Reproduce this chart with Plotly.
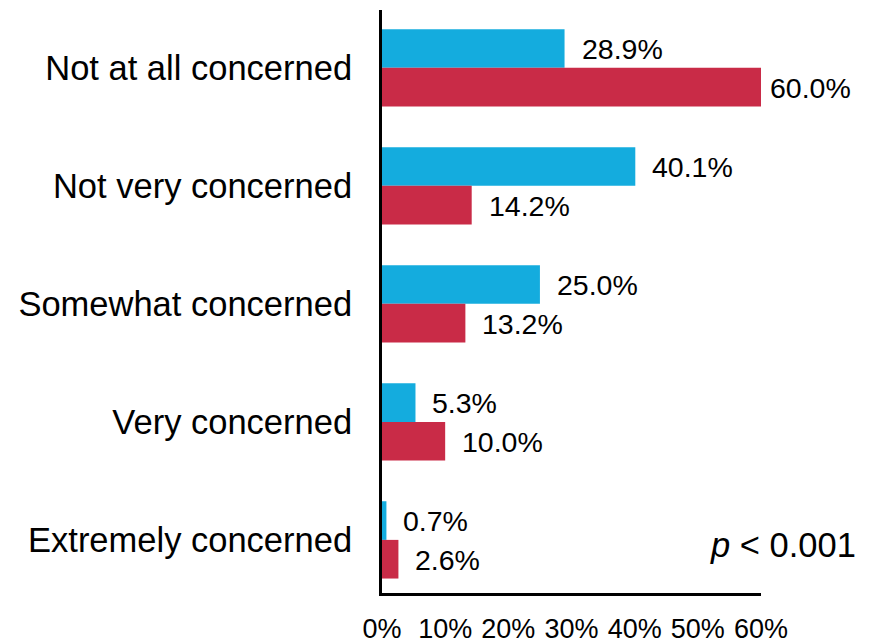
import plotly.graph_objects as go

categories = ["Not at all concerned", "Not very concerned", "Somewhat concerned",
              "Very concerned", "Extremely concerned"]
series_blue = [28.9, 40.1, 25.0, 5.3, 0.7]
series_red = [60.0, 14.2, 13.2, 10.0, 2.6]
tick_vals = [0, 10, 20, 30, 40, 50, 60]
tick_text = ["0%", "10%", "20%", "30%", "40%", "50%", "60%"]

BLUE = "#14ACDE"
RED = "#C92B47"
FONT = "Liberation Sans, Arial, sans-serif"

fig = go.Figure()
fig.add_trace(go.Bar(y=categories, x=series_blue, orientation="h",
                     marker=dict(color=BLUE, line=dict(width=0)), name="A",
                     hoverinfo="x+y"))
fig.add_trace(go.Bar(y=categories, x=series_red, orientation="h",
                     marker=dict(color=RED, line=dict(width=0)), name="B",
                     hoverinfo="x+y"))

annotations = []
XMAX = 60
for vals, shift in ((series_blue, 19), (series_red, -20)):
    for cat, v in zip(categories, vals):
        annotations.append(dict(
            x=v, y=cat, xref="x", yref="y", text=f"{v:.1f}%",
            showarrow=False, xanchor="left", yanchor="middle",
            xshift=7 if v >= XMAX else 15, yshift=shift,
            font=dict(family=FONT, size=28.5, color="black")))

annotations.append(dict(
    x=1.257, y=0.082, xref="paper", yref="paper",
    text="<i>p</i> &lt; 0.001", showarrow=False,
    xanchor="right", yanchor="middle",
    font=dict(family=FONT, size=34.5, color="black")))

fig.update_layout(
    width=871, height=643,
    margin=dict(l=374, r=118, t=2, b=58, autoexpand=False),
    paper_bgcolor="white", plot_bgcolor="white",
    barmode="group", bargap=0.345, bargroupgap=0,
    showlegend=False,
    annotations=annotations,
    font=dict(family=FONT, color="black"),
)
fig.update_xaxes(
    range=[0, 60], tickvals=tick_vals, ticktext=tick_text,
    showgrid=False, zeroline=False, showline=True, linecolor="black",
    linewidth=3, ticks="", ticklabelstandoff=10,
    tickfont=dict(family=FONT, size=27, color="black"), automargin=False,
)
fig.update_yaxes(
    categoryorder="array", categoryarray=categories,
    range=[4.45, -0.49], showgrid=False, zeroline=False,
    showline=True, linecolor="black", linewidth=3, ticks="",
    ticklabelstandoff=20,
    tickfont=dict(family=FONT, size=34.5, color="black"), automargin=False,
)

fig.write_html("out.html")
